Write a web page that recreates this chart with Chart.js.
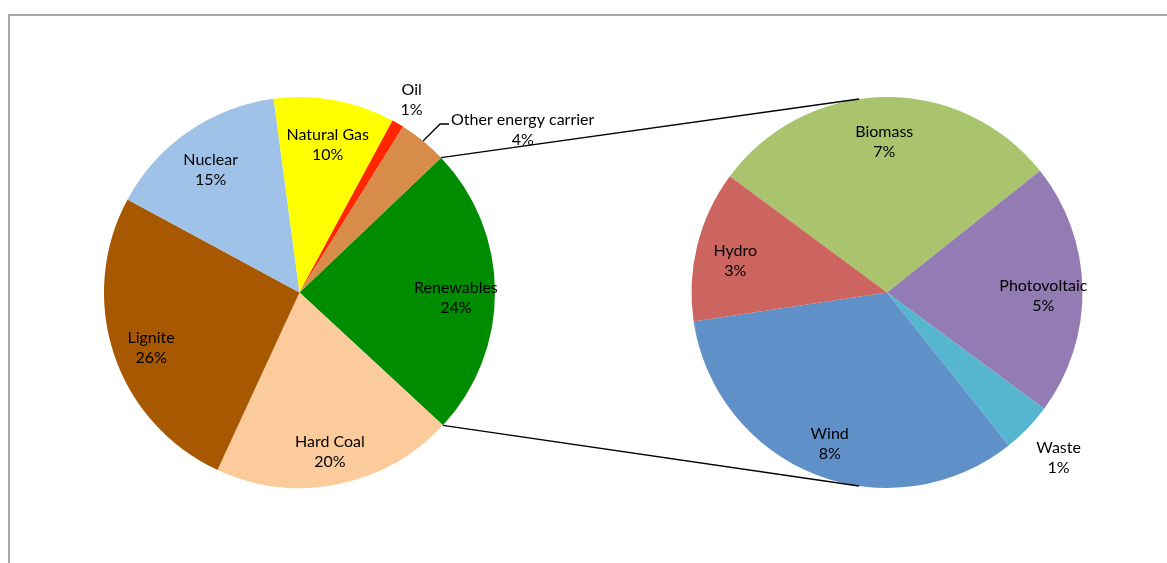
<!DOCTYPE html>
<html lang="en">
<head>
    <meta charset="UTF-8">
    <title>Electricity Generation by Energy Source</title>
    <script src="https://cdn.jsdelivr.net/npm/chart.js@4.4.0/dist/chart.umd.min.js"></script>
    <style>
        body {
            margin: 0;
            background: #fff;
            width: 1167px;
            height: 563px;
            overflow: hidden;
            position: relative;
            font-family: Lato, sans-serif;
        }
        #frame {
            position: absolute;
            left: 8px;
            top: 14px;
            right: 0;
            bottom: 0;
            border-top: 2px solid #a6a6a6;
            border-left: 2px solid #a6a6a6;
        }
        canvas {
            position: absolute;
            left: 0;
            top: 0;
        }
    </style>
</head>
<body>
    <div id="frame"></div>
    <canvas id="mainPie" width="1167" height="563"></canvas>
    <canvas id="renewPie" width="1167" height="563"></canvas>

    <script>
        // Gross electricity generation by source (%)
        const mainLabels = ['Renewables', 'Hard Coal', 'Lignite', 'Nuclear', 'Natural Gas', 'Oil', 'Other energy carrier'];
        const mainValues = [24, 20, 26, 15, 10, 1, 4];
        const mainColors = ['#008c00', '#fccb9b', '#a85800', '#9fc3e8', '#ffff00', '#ff2600', '#d88c4a'];

        // Breakdown of the renewables share (%)
        const renewLabels = ['Biomass', 'Photovoltaic', 'Waste', 'Wind', 'Hydro'];
        const renewValues = [7, 5, 1, 8, 3];
        const renewColors = ['#a9c46d', '#937bb3', '#56b5cf', '#5f91c8', '#cc6560'];

        const FONT = '16px Lato, "Open Sans", sans-serif';
        const LINE_H = 20;

        // Draws "Category / xx%" labels; some slices get their label outside
        const sliceLabels = {
            id: 'sliceLabels',
            afterDatasetsDraw(chart, args, opts) {
                const ctx = chart.ctx;
                const meta = chart.getDatasetMeta(0);
                const labels = chart.data.labels;
                const values = chart.data.datasets[0].data;
                ctx.save();
                ctx.font = FONT;
                ctx.fillStyle = '#000';
                ctx.textBaseline = 'middle';
                meta.data.forEach((arc, i) => {
                    const p = arc.getProps(['x', 'y', 'startAngle', 'endAngle', 'outerRadius'], true);
                    const mid = (p.startAngle + p.endAngle) / 2;
                    const lines = [labels[i], values[i] + '%'];
                    const place = (opts.placement || {})[labels[i]] || 'inside';
                    let cx, cy;
                    if (place === 'leader') {
                        const sx = p.x + p.outerRadius * Math.cos(mid);
                        const sy = p.y + p.outerRadius * Math.sin(mid);
                        const ex = sx + 17, ey = sy - 17;
                        ctx.strokeStyle = '#000';
                        ctx.lineWidth = 1.3;
                        ctx.beginPath();
                        ctx.moveTo(sx, sy);
                        ctx.lineTo(ex, ey);
                        ctx.lineTo(ex + 9, ey);
                        ctx.stroke();
                        const w = Math.max(...lines.map(t => ctx.measureText(t).width));
                        cx = ex + 11 + w / 2;
                        cy = ey + 6;
                    } else if (place === 'outside') {
                        cx = p.x + p.outerRadius * opts.outsideFactor * Math.cos(mid);
                        cy = p.y + p.outerRadius * opts.outsideFactor * Math.sin(mid);
                    } else {
                        cx = p.x + p.outerRadius * 0.8 * Math.cos(mid);
                        cy = p.y + p.outerRadius * 0.8 * Math.sin(mid) + 6;
                    }
                    ctx.textAlign = 'center';
                    ctx.fillText(lines[0], cx, cy - LINE_H / 2);
                    ctx.fillText(lines[1], cx, cy + LINE_H / 2);
                });
                ctx.restore();
            }
        };

        function pieOptions(rotation, padding, labelOpts) {
            return {
                responsive: false,
                animation: false,
                rotation: rotation,
                layout: { padding: padding },
                plugins: {
                    legend: { display: false },
                    tooltip: { enabled: false },
                    sliceLabels: labelOpts
                }
            };
        }

        document.fonts.load(FONT).finally(() => {
            const mainChart = new Chart(document.getElementById('mainPie'), {
                type: 'pie',
                data: {
                    labels: mainLabels,
                    datasets: [{ data: mainValues, backgroundColor: mainColors, borderWidth: 0 }]
                },
                options: pieOptions(46.4, { left: 104, top: 97, right: 672, bottom: 75 }, {
                    outsideFactor: 1.14,
                    placement: { 'Oil': 'outside', 'Other energy carrier': 'leader' }
                }),
                plugins: [sliceLabels]
            });

            // Lines joining the renewables slice to the secondary pie
            const connectors = {
                id: 'connectors',
                afterDraw(chart) {
                    const src = mainChart.getDatasetMeta(0).data[0]
                        .getProps(['x', 'y', 'startAngle', 'endAngle', 'outerRadius'], true);
                    const dst = chart.getDatasetMeta(0).data[0]
                        .getProps(['x', 'y', 'outerRadius'], true);
                    const off = 8.2 * Math.PI / 180;
                    const ctx = chart.ctx;
                    ctx.save();
                    ctx.strokeStyle = '#000';
                    ctx.lineWidth = 1.3;
                    ctx.beginPath();
                    ctx.moveTo(src.x + src.outerRadius * Math.cos(src.startAngle),
                               src.y + src.outerRadius * Math.sin(src.startAngle));
                    ctx.lineTo(dst.x - dst.outerRadius * Math.sin(off),
                               dst.y - dst.outerRadius * Math.cos(off));
                    ctx.moveTo(src.x + src.outerRadius * Math.cos(src.endAngle),
                               src.y + src.outerRadius * Math.sin(src.endAngle));
                    ctx.lineTo(dst.x - dst.outerRadius * Math.sin(off),
                               dst.y + dst.outerRadius * Math.cos(off));
                    ctx.stroke();
                    ctx.restore();
                }
            };

            new Chart(document.getElementById('renewPie'), {
                type: 'pie',
                data: {
                    labels: renewLabels,
                    datasets: [{ data: renewValues, backgroundColor: renewColors, borderWidth: 0 }]
                },
                options: pieOptions(-53.5, { left: 691, top: 97, right: 84, bottom: 75 }, {
                    outsideFactor: 1.22,
                    placement: { 'Waste': 'outside' }
                }),
                plugins: [sliceLabels, connectors]
            });
        });
    </script>
</body>
</html>
